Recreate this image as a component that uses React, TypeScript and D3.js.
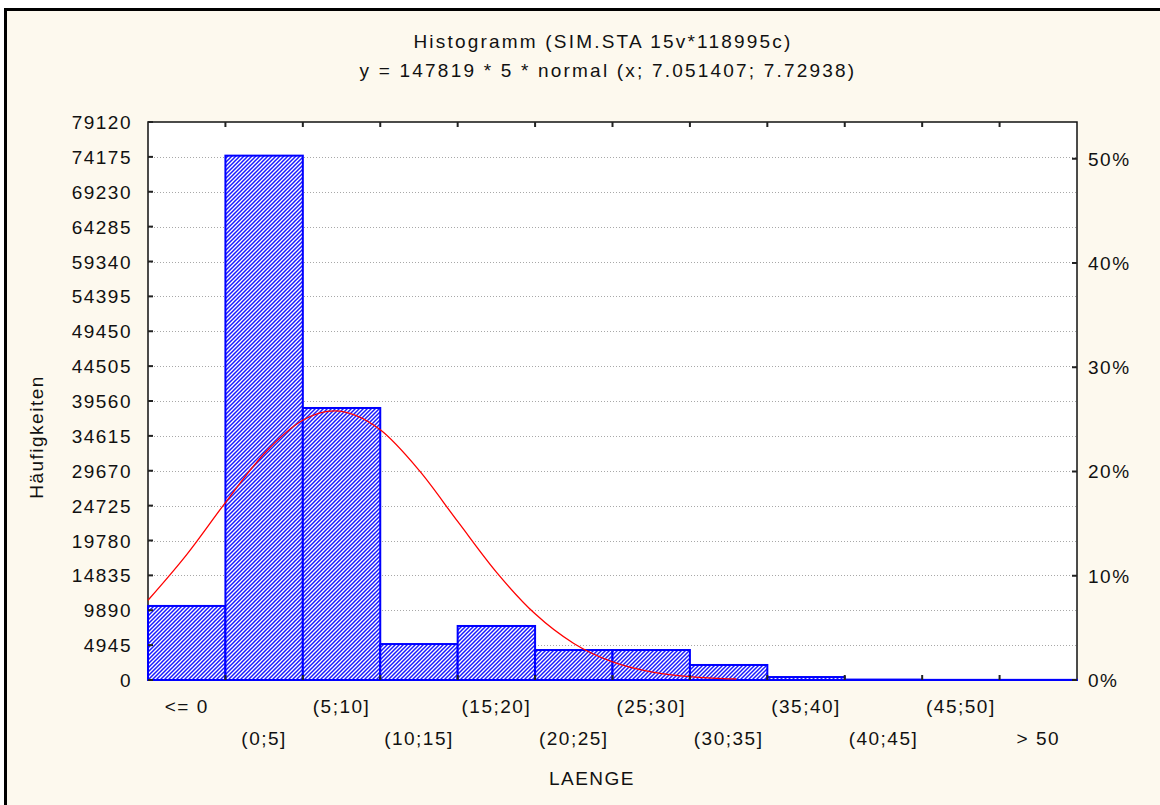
import React from 'react';
import * as d3 from 'd3';

// histogram bins (LAENGE), width 5
const categories = ['<= 0', '(0;5]', '(5;10]', '(10;15]', '(15;20]', '(20;25]', '(25;30]', '(30;35]', '(35;40]', '(40;45]', '(45;50]', '> 50'];
const binEdges = [-5, 0, 5, 10, 15, 20, 25, 30, 35, 40, 45, 50, 55];
const counts = [10500, 74350, 38570, 5100, 7660, 4250, 4250, 2130, 420, 60, 20, 20];

// left axis tick labels (counts) and right axis (percent of total)
const countTicks = [0, 4945, 9890, 14835, 19780, 24725, 29670, 34615, 39560, 44505, 49450, 54395, 59340, 64285, 69230, 74175, 79120];
const pctTicks = [0, 0.1, 0.2, 0.3, 0.4, 0.5];
const totalN = 147819;

// fitted normal curve
const fitX = [-5, -2.5, 0, 2.5, 5, 7.05, 10, 12.5, 15, 17.5, 20, 22.5, 25, 27.5, 30, 32.5, 33];
const fitY = [11310, 17780, 25160, 32080, 36830, 38150, 35470, 29750, 22480, 15300, 9380, 5180, 2570, 1150, 470, 170, 140];

const titleLine1 = 'Histogramm (SIM.STA 15v*118995c)';
const titleLine2 = 'y = 147819 * 5 * normal (x; 7.051407; 7.72938)';

const W = 1160;
const H = 805;
const plot = { left: 148, right: 1077, top: 122, bottom: 680 };
const font = '"Liberation Sans", Arial, sans-serif';
const fs = 19;

const App = () => {
  const x = d3.scaleLinear().domain([-5, 55]).range([plot.left, plot.right]);
  const y = d3.scaleLinear().domain([0, 79120]).range([plot.bottom, plot.top]);
  const yPct = d3.scaleLinear().domain([0, 79120 / totalN]).range([plot.bottom, plot.top]);

  const line = d3
    .line<number>()
    .x((d) => x(d))
    .y((_, i) => y(fitY[i]))
    .curve(d3.curveMonotoneX);

  const textStyle = { fontFamily: font, fontSize: fs, letterSpacing: 1.5, fill: '#111' };
  const titleStyle = { ...textStyle, letterSpacing: 2.2 };

  return (
    <svg
      width={W}
      height={H}
      style={{ position: 'absolute', left: 0, top: 0, background: '#fff' }}
    >
      <defs>
        <pattern id="hatch" width="4" height="4" patternUnits="userSpaceOnUse">
          <rect width="4" height="4" fill="#ffffff" />
          <path d="M-1,1 L1,-1 M0,4 L4,0 M3,5 L5,3" stroke="#1a1aff" strokeWidth="1.5" fill="none" />
        </pattern>
      </defs>

      <rect x={4} y={8} width={W - 4} height={H - 8} fill="#fdf9ee" />
      <rect x={4} y={8} width={W - 4} height={3} fill="#000" />
      <rect x={4} y={8} width={3} height={H - 8} fill="#000" />

      {/* titles */}
      <text x={603} y={48} textAnchor="middle" style={titleStyle}>{titleLine1}</text>
      <text x={608} y={77} textAnchor="middle" style={titleStyle}>{titleLine2}</text>

      {/* plot area */}
      <rect x={plot.left} y={plot.top} width={plot.right - plot.left} height={plot.bottom - plot.top} fill="#fff" />

      {/* dotted grid */}
      {countTicks.slice(1, -1).map((t) => (
        <line
          key={'g' + t}
          x1={plot.left}
          x2={plot.right}
          y1={Math.round(y(t)) + 0.5}
          y2={Math.round(y(t)) + 0.5}
          stroke="#a8a8a8"
          strokeDasharray="1,2"
        />
      ))}

      {/* frame */}
      <rect
        x={plot.left}
        y={plot.top}
        width={plot.right - plot.left}
        height={plot.bottom - plot.top}
        fill="none"
        stroke="#111"
        strokeWidth={1.5}
      />

      {/* bars */}
      {counts.map((c, i) => (
        <rect
          key={'b' + i}
          x={x(binEdges[i])}
          y={y(c)}
          width={x(binEdges[i + 1]) - x(binEdges[i])}
          height={plot.bottom - y(c)}
          fill="url(#hatch)"
          stroke="#0000ff"
          strokeWidth={2}
        />
      ))}

      {/* fitted normal */}
      <path d={line(fitX) ?? ''} fill="none" stroke="#ff0000" strokeWidth={1.3} />

      {/* left ticks */}
      {countTicks.map((t) => (
        <g key={'l' + t}>
          <line x1={plot.left} x2={plot.left + 5} y1={y(t)} y2={y(t)} stroke="#222" strokeWidth={2} />
          <text x={132} y={y(t) + 7} textAnchor="end" style={textStyle}>{t}</text>
        </g>
      ))}

      {/* right ticks */}
      {pctTicks.map((p) => (
        <g key={'r' + p}>
          <line x1={plot.right - 5} x2={plot.right} y1={yPct(p)} y2={yPct(p)} stroke="#222" strokeWidth={2} />
          <text x={1088} y={yPct(p) + 7} style={textStyle}>{Math.round(p * 100) + '%'}</text>
        </g>
      ))}

      {/* top / bottom ticks at bin edges */}
      {binEdges.slice(1, -1).map((e) => (
        <g key={'t' + e}>
          <line x1={x(e)} x2={x(e)} y1={plot.top} y2={plot.top + 5} stroke="#222" strokeWidth={2} />
          <line x1={x(e)} x2={x(e)} y1={plot.bottom - 5} y2={plot.bottom} stroke="#222" strokeWidth={2} />
        </g>
      ))}

      {/* category labels, staggered */}
      {categories.map((c, i) => (
        <text
          key={'c' + i}
          x={(x(binEdges[i]) + x(binEdges[i + 1])) / 2}
          y={i % 2 === 0 ? 713 : 745}
          textAnchor="middle"
          style={textStyle}
        >
          {c}
        </text>
      ))}

      {/* axis titles */}
      <text x={592} y={785} textAnchor="middle" style={textStyle}>LAENGE</text>
      <text
        transform={`translate(43,437) rotate(-90)`}
        textAnchor="middle"
        style={textStyle}
      >
        Häufigkeiten
      </text>
    </svg>
  );
};

export default App;
